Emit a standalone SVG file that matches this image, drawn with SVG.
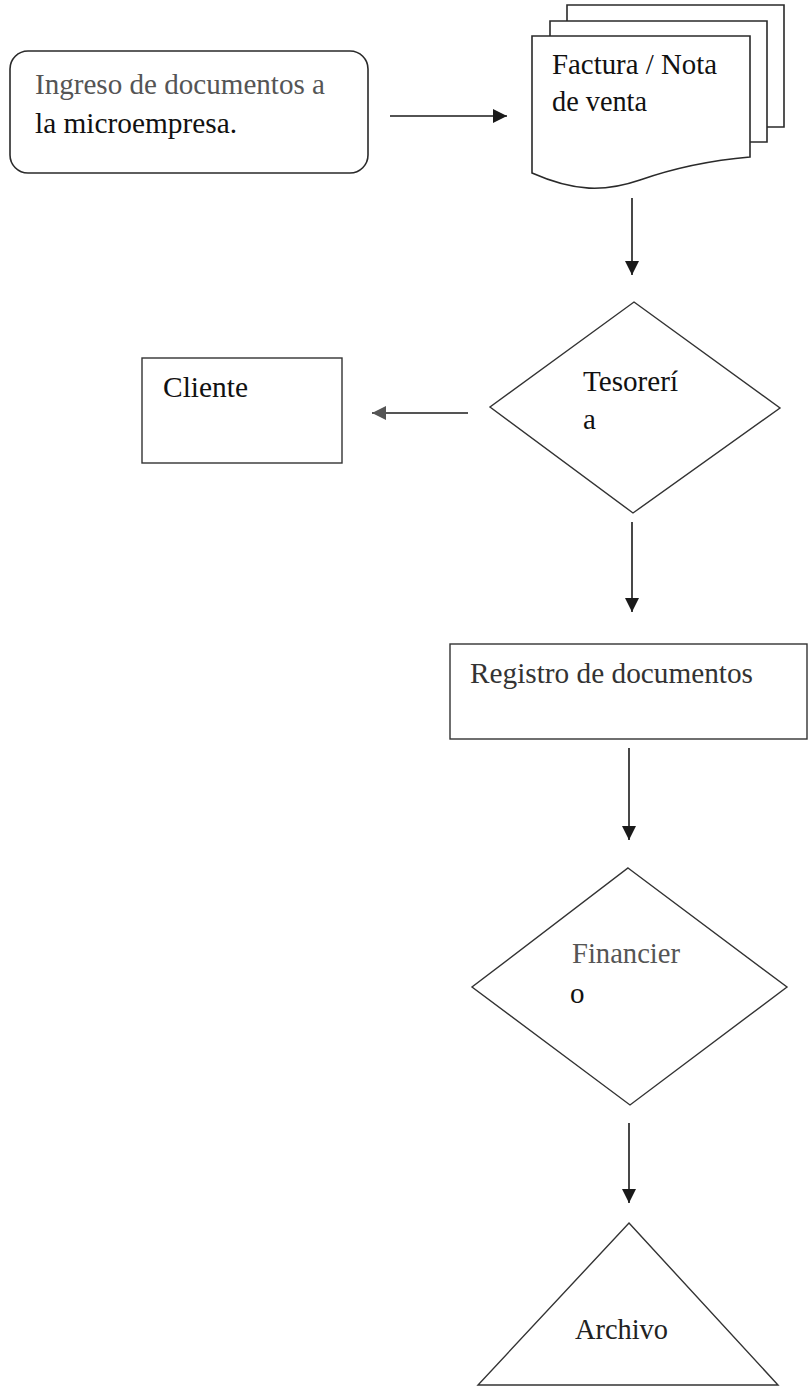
<svg xmlns="http://www.w3.org/2000/svg" width="808" height="1386" viewBox="0 0 808 1386">
<style>
.bg{fill:#ffffff}
.shape{fill:#ffffff;stroke:#2a2a2a;stroke-width:1.6}
.thin{fill:#ffffff;stroke:#333333;stroke-width:1.4}
.txt{font-family:"Liberation Serif","DejaVu Serif","Times New Roman",serif;font-size:29px;fill:#111111}
.gray{fill:#555555}
.conn{stroke:#1a1a1a;stroke-width:1.6;fill:none}
.conn-gray{stroke:#555555;stroke-width:2;fill:none}
</style>
<defs>
<marker id="ah" markerUnits="userSpaceOnUse" markerWidth="14" markerHeight="14" refX="14" refY="7" orient="auto">
<path d="M0,0 L14,7 L0,14 z" fill="#1a1a1a"/>
</marker>
<marker id="ahg" markerUnits="userSpaceOnUse" markerWidth="14" markerHeight="14" refX="14" refY="7" orient="auto">
<path d="M0,0 L14,7 L0,14 z" fill="#555555"/>
</marker>
</defs>
<rect class="bg" x="0" y="0" width="808" height="1386"/>

<g id="ingreso">
<rect class="shape" x="10" y="51" width="358" height="122" rx="18" ry="18"/>
<text class="txt gray" x="35" y="94" font-family="Liberation Serif, serif" textLength="290" lengthAdjust="spacingAndGlyphs">Ingreso de documentos a</text>
<text class="txt" x="35" y="133" font-family="Liberation Serif, serif" textLength="202" lengthAdjust="spacingAndGlyphs">la microempresa.</text>
</g>

<g id="factura">
<path class="shape" d="M567,127 L567,5 L784,5 L784,127 Z"/>
<path class="shape" d="M550,142 L550,21 L767,21 L767,142 Z"/>
<path class="shape" d="M532,173 L532,36 L750,36 L750,157 C715,160 680,166 640,180 C605,192 575,192 532,173 Z"/>
<text class="txt" x="552" y="74" font-family="Liberation Serif, serif" textLength="165" lengthAdjust="spacingAndGlyphs">Factura / Nota</text>
<text class="txt" x="552" y="111" font-family="Liberation Serif, serif" textLength="95" lengthAdjust="spacingAndGlyphs">de venta</text>
</g>

<g id="tesoreria">
<path class="thin" d="M634,302 L780,408 L633,513 L490,407 Z"/>
<text class="txt" x="583" y="391" font-family="Liberation Serif, serif" textLength="95" lengthAdjust="spacingAndGlyphs">Tesorerí</text>
<text class="txt" x="583" y="429" font-family="Liberation Serif, serif">a</text>
</g>

<g id="cliente">
<rect class="thin" x="142" y="358" width="200" height="105"/>
<text class="txt" x="163" y="397" font-family="Liberation Serif, serif" textLength="85" lengthAdjust="spacingAndGlyphs">Cliente</text>
</g>

<g id="registro">
<rect class="thin" x="450" y="644" width="357" height="95"/>
<text class="txt" x="470" y="683" font-family="Liberation Serif, serif" textLength="283" lengthAdjust="spacingAndGlyphs" style="fill:#333333">Registro de documentos</text>
</g>

<g id="financiero">
<path class="thin" d="M628,868 L787,987 L630,1105 L472,987 Z"/>
<text class="txt gray" x="572" y="963" font-family="Liberation Serif, serif" textLength="108" lengthAdjust="spacingAndGlyphs">Financier</text>
<text class="txt" x="570" y="1003" font-family="Liberation Serif, serif">o</text>
</g>

<g id="archivo">
<path class="thin" d="M629,1223 L778,1385 L478,1385 Z"/>
<text class="txt" x="575" y="1339" font-family="Liberation Serif, serif" textLength="93" lengthAdjust="spacingAndGlyphs" style="fill:#222222">Archivo</text>
</g>

<g id="connectors">
<line class="conn" x1="390" y1="116" x2="507" y2="116" marker-end="url(#ah)"/>
<line class="conn" x1="632" y1="198" x2="632" y2="275" marker-end="url(#ah)"/>
<line class="conn-gray" x1="468" y1="413" x2="372" y2="413" marker-end="url(#ahg)"/>
<line class="conn" x1="632" y1="522" x2="632" y2="612" marker-end="url(#ah)"/>
<line class="conn" x1="629" y1="748" x2="629" y2="840" marker-end="url(#ah)"/>
<line class="conn" x1="629" y1="1123" x2="629" y2="1203" marker-end="url(#ah)"/>
</g>
</svg>
